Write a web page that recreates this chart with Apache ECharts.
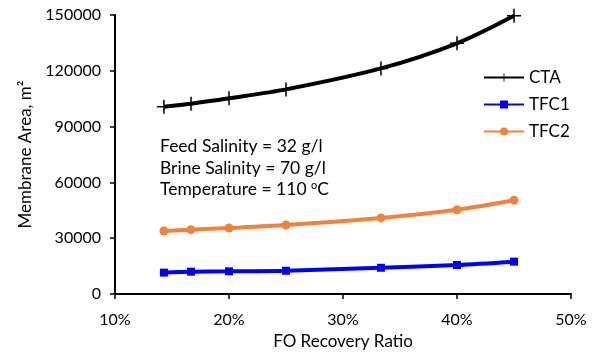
<!DOCTYPE html>
<html><head><meta charset="utf-8">
<script src="https://cdn.jsdelivr.net/npm/echarts@6/dist/echarts.min.js"></script>
<style>html,body{margin:0;padding:0;background:#fff}#c{width:596px;height:359px}</style>
</head><body><div id="c"></div>
<script>
const recovery = [14.29, 16.67, 20, 25, 33.33, 40, 45];
const cta  = [100700, 102300, 105200, 110000, 121300, 134800, 149600];
const tfc1 = [11500, 12000, 12200, 12500, 14100, 15600, 17400];
const tfc2 = [33900, 34600, 35500, 37100, 40900, 45300, 50400];
const seriesNames = ['CTA', 'TFC1', 'TFC2'];
const notes = ['Feed Salinity = 32 g/l', 'Brine Salinity = 70 g/l'];

const F = 'Lato, "Liberation Sans", sans-serif';
const pair = arr => recovery.map((x, i) => [x, arr[i]]);
const plus = 'path://M-1.5,-14 h3 v28 h-3 z M-14,-1.5 h28 v3 h-28 z';

const chart = echarts.init(document.getElementById('c'));
chart.setOption({
  animation: false,
  textStyle: {fontFamily: F},
  grid: {left: 115, right: 25, top: 15, bottom: 65},
  xAxis: {
    type: 'value', min: 10, max: 50, interval: 10,
    name: 'FO Recovery Ratio', nameLocation: 'middle', nameGap: 37,
    nameTextStyle: {fontSize: 17, color: '#000', fontFamily: F},
    axisLine: {lineStyle: {color: '#000', width: 2}},
    axisTick: {show: true, length: 5, lineStyle: {color: '#000', width: 1.5}},
    axisLabel: {formatter: '{value}%', fontSize: 16, color: '#000', margin: 18, fontFamily: F},
    splitLine: {show: false}
  },
  yAxis: {
    type: 'value', min: 0, max: 150000, interval: 30000,
    name: 'Membrane Area, m²', nameLocation: 'middle', nameGap: 81,
    nameTextStyle: {fontSize: 17, color: '#000', fontFamily: F},
    axisLine: {show: true, lineStyle: {color: '#000', width: 2}},
    axisTick: {show: true, length: 5, lineStyle: {color: '#000', width: 1.5}},
    axisLabel: {formatter: v => String(v), fontSize: 16, color: '#000', margin: 14, fontFamily: F},
    splitLine: {show: false}
  },
  legend: {
    orient: 'vertical', left: 483, top: 69, padding: 0,
    itemWidth: 40, itemHeight: 10, itemGap: 10,
    textStyle: {fontSize: 17, lineHeight: 16, color: '#000', fontFamily: F},
    data: seriesNames
  },
  series: [
    {name: seriesNames[0], type: 'line', data: pair(cta), smooth: 0.3,
     symbol: plus, symbolSize: 14,
     lineStyle: {color: '#000', width: 4}, itemStyle: {color: '#000'}},
    {name: seriesNames[1], type: 'line', data: pair(tfc1), smooth: 0.3,
     symbol: 'rect', symbolSize: 8,
     lineStyle: {color: '#0000ff', width: 4}, itemStyle: {color: '#0000ff'}},
    {name: seriesNames[2], type: 'line', data: pair(tfc2), smooth: 0.3,
     symbol: 'circle', symbolSize: 9,
     lineStyle: {color: '#f0823a', width: 4}, itemStyle: {color: '#f0823a'}}
  ],
  graphic: [
    {type: 'text', left: 160, top: 137, style: {text: notes[0], font: '17.5px ' + F, fill: '#000'}},
    {type: 'text', left: 160, top: 159, style: {text: notes[1], font: '17.5px ' + F, fill: '#000'}},
    {type: 'text', left: 160, top: 180, style: {
      text: 'Temperature = 110 {s|o}C', font: '17.5px ' + F, fill: '#000',
      rich: {s: {fontSize: 11, verticalAlign: 'top', padding: [0,0,8,0], fontFamily: F}}
    }}
  ]
});
</script></body></html>
